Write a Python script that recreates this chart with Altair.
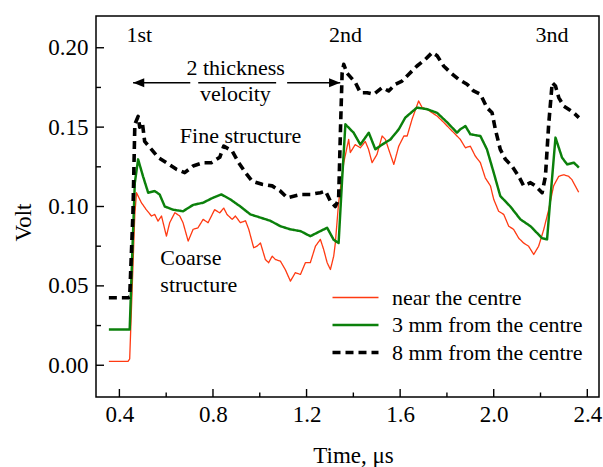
import altair as alt
import pandas as pd

# ---------------- data ----------------
SERIES = ["near the centre", "3 mm from the centre", "8 mm from the centre"]

red_t = [0.355, 0.437, 0.444, 0.455, 0.466, 0.473, 0.494, 0.515, 0.537, 0.551, 0.565, 0.580,
         0.601, 0.615, 0.637, 0.658, 0.672, 0.694, 0.715, 0.736, 0.758, 0.779, 0.807, 0.829,
         0.846, 0.860, 0.882, 0.896, 0.917, 0.939, 0.953, 0.974, 0.988, 1.003, 1.024, 1.038,
         1.053, 1.067, 1.088, 1.109, 1.131, 1.152, 1.174, 1.195, 1.216, 1.238, 1.259, 1.273,
         1.288, 1.302, 1.316, 1.323, 1.337, 1.359, 1.380, 1.387, 1.408, 1.430, 1.451, 1.465,
         1.480, 1.501, 1.523, 1.537, 1.551, 1.573, 1.594, 1.616, 1.630, 1.651, 1.679, 1.694,
         1.715, 1.737, 1.758, 1.786, 1.815, 1.836, 1.857, 1.879, 1.900, 1.921, 1.943, 1.964,
         1.986, 2.000, 2.021, 2.043, 2.064, 2.085, 2.107, 2.128, 2.149, 2.171, 2.192, 2.214,
         2.235, 2.256, 2.278, 2.299, 2.320, 2.334, 2.363]
red_v = [0.0025, 0.0025, 0.004, 0.050, 0.095, 0.1087, 0.1024, 0.098, 0.094, 0.095, 0.0908, 0.094,
         0.0813, 0.0898, 0.0961, 0.094, 0.0898, 0.0782, 0.0856, 0.0866, 0.0919, 0.0898, 0.098, 0.096,
         0.099, 0.095, 0.0919, 0.094, 0.0898, 0.091, 0.0856, 0.074, 0.075, 0.077, 0.0666, 0.0646,
         0.0687, 0.0666, 0.0656, 0.0603, 0.053, 0.0583, 0.0572, 0.0646, 0.0646, 0.075, 0.0793, 0.073,
         0.0646, 0.0603, 0.0687, 0.077, 0.1024, 0.1276, 0.1423, 0.134, 0.139, 0.137, 0.141, 0.136,
         0.1276, 0.1328, 0.1444, 0.1423, 0.136, 0.1265, 0.138, 0.1444, 0.1444, 0.155, 0.1665, 0.1623,
         0.1613, 0.159, 0.157, 0.153, 0.1486, 0.1455, 0.1423, 0.137, 0.138, 0.1318, 0.1276, 0.118,
         0.113, 0.1045, 0.097, 0.095, 0.0876, 0.0856, 0.080, 0.077, 0.075, 0.0698, 0.075, 0.0856,
         0.098, 0.113, 0.119, 0.120, 0.119, 0.117, 0.109]

green_t = [0.355, 0.437, 0.444, 0.455, 0.466, 0.480, 0.501, 0.523, 0.551, 0.572, 0.594, 0.629,
           0.672, 0.715, 0.758, 0.800, 0.836, 0.874, 0.917, 0.960, 1.003, 1.045, 1.088, 1.131,
           1.174, 1.216, 1.259, 1.288, 1.316, 1.337, 1.352, 1.366, 1.373, 1.401, 1.430, 1.466,
           1.494, 1.523, 1.559, 1.594, 1.622, 1.672, 1.715, 1.758, 1.801, 1.843, 1.857, 1.879,
           1.900, 1.943, 1.971, 2.000, 2.028, 2.071, 2.114, 2.157, 2.207, 2.228, 2.243, 2.264,
           2.292, 2.314, 2.343, 2.364]
green_v = [0.0225, 0.0225, 0.0225, 0.070, 0.115, 0.1297, 0.119, 0.1087, 0.1097, 0.1076, 0.100, 0.098,
           0.097, 0.101, 0.1024, 0.1055, 0.1076, 0.1045, 0.100, 0.095, 0.093, 0.091, 0.0876, 0.0856,
           0.0845, 0.0813, 0.0845, 0.0866, 0.079, 0.077, 0.117, 0.1518, 0.1507, 0.1465, 0.139, 0.1465,
           0.136, 0.139, 0.1423, 0.1486, 0.156, 0.1623, 0.1613, 0.159, 0.153, 0.1465, 0.1486, 0.1507,
           0.1455, 0.1444, 0.136, 0.1213, 0.1066, 0.100, 0.0919, 0.0876, 0.080, 0.0793, 0.1066, 0.1434,
           0.1308, 0.1265, 0.1276, 0.1245]

black_t = [0.355, 0.437, 0.444, 0.458, 0.466, 0.480, 0.487, 0.498, 0.508, 0.537, 0.565, 0.601,
           0.644, 0.679, 0.715, 0.758, 0.793, 0.829, 0.846, 0.882, 0.910, 0.939, 0.967, 1.010,
           1.053, 1.088, 1.117, 1.174, 1.216, 1.259, 1.281, 1.302, 1.323, 1.337, 1.345, 1.352,
           1.359, 1.373, 1.409, 1.430, 1.459, 1.487, 1.523, 1.551, 1.580, 1.608, 1.637, 1.672,
           1.708, 1.737, 1.758, 1.786, 1.815, 1.851, 1.886, 1.914, 1.943, 1.971, 1.993, 2.007,
           2.028, 2.050, 2.078, 2.107, 2.128, 2.157, 2.178, 2.207, 2.221, 2.235, 2.250, 2.264,
           2.278, 2.299, 2.320, 2.342, 2.364]
black_v = [0.0425, 0.0425, 0.043, 0.096, 0.1518, 0.1567, 0.150, 0.153, 0.141, 0.136, 0.131, 0.1276,
           0.1234, 0.1213, 0.1255, 0.1276, 0.1276, 0.131, 0.138, 0.135, 0.1276, 0.1213, 0.116, 0.114,
           0.113, 0.1097, 0.1055, 0.1076, 0.1076, 0.1087, 0.1097, 0.1034, 0.100, 0.1045, 0.1486, 0.184,
           0.1896, 0.184, 0.178, 0.1717, 0.1717, 0.1707, 0.1749, 0.1728, 0.177, 0.179, 0.1833, 0.1885,
           0.1927, 0.197, 0.195, 0.1885, 0.1844, 0.180, 0.177, 0.1728, 0.1707, 0.1623, 0.159, 0.1486,
           0.136, 0.1297, 0.1255, 0.119, 0.113, 0.115, 0.113, 0.1087, 0.119, 0.1518, 0.178, 0.1759,
           0.1686, 0.1633, 0.1613, 0.159, 0.156]

COLORS = ["#ff3a12", "#0b800b", "#000000"]
WIDTHS = [1.3, 3.6, 2.0]
DASHES = [[1, 0], [1, 0], [8, 5]]

X_MAJOR = [0.4, 0.8, 1.2, 1.6, 2.0, 2.4]
X_MINOR = [0.6, 1.0, 1.4, 1.8, 2.2]
Y_MAJOR = [0.0, 0.05, 0.10, 0.15, 0.20]
Y_MINOR = [0.025, 0.075, 0.125, 0.175]
X_DOMAIN = [0.3, 2.45]
Y_DOMAIN = [-0.02, 0.22]

# annotations (text, t, v, align)
ANN_TEXT = ["1st", "2nd", "3nd", "2 thickness", "velocity", "Fine structure", "Coarse", "structure"]
ANN_T = [0.4855, 1.366, 2.249, 0.897, 0.896, 0.918, 0.575, 0.575]
ANN_V = [0.2039, 0.2039, 0.2039, 0.1827, 0.1665, 0.1402, 0.0629, 0.046]
ANN_ALIGN = ["center", "center", "center", "center", "center", "center", "left", "left"]

BAR_T = [0.737, 1.07]
ARROW_V = 0.178
ARROW_LEFT = [0.4585, 0.703]
ARROW_RIGHT = [1.117, 1.344]

W, H = 503, 381
FONT = "Liberation Serif"

# ---------------- build tables ----------------
rows = []
for name, ts, vs in zip(SERIES, [red_t, green_t, black_t], [red_v, green_v, black_v]):
    for i, (t, v) in enumerate(zip(ts, vs)):
        rows.append({"series": name, "t": t, "v": v, "i": i})
df = pd.DataFrame(rows)

xs = alt.Scale(domain=X_DOMAIN, nice=False, zero=False)
ys = alt.Scale(domain=Y_DOMAIN, nice=False, zero=False)

lines = alt.Chart(df).mark_line(clip=True, strokeJoin="round").encode(
    x=alt.X("t:Q", scale=xs,
            axis=alt.Axis(values=X_MAJOR, format=".1f", ticks=False, domain=False, grid=False,
                          labelFont=FONT, labelFontSize=23, labelColor="black",
                          labelBaseline="alphabetic", labelPadding=24,
                          title="Time, μs", titleFont=FONT, titleFontSize=23,
                          titleFontWeight="normal", titleColor="black",
                          titleX=257, titleY=65, titleBaseline="alphabetic")),
    y=alt.Y("v:Q", scale=ys,
            axis=alt.Axis(values=Y_MAJOR, format=".2f", ticks=False, domain=False, grid=False,
                          labelFont=FONT, labelFontSize=23, labelColor="black",
                          labelPadding=8,
                          title="Volt", titleFont=FONT, titleFontSize=23,
                          titleFontWeight="normal", titleColor="black",
                          titleAngle=270, titleX=-73, titleY=206,
                          titleAlign="center", titleBaseline="middle")),
    color=alt.Color("series:N", scale=alt.Scale(domain=SERIES, range=COLORS),
                    legend=alt.Legend(orient="none", legendX=246, legendY=269, title=None,
                                      symbolType="M-2,0H2", symbolSize=529,
                                      labelFont=FONT, labelFontSize=22, labelColor="black",
                                      labelOffset=23, rowPadding=3, padding=0,
                                      labelLimit=400)),
    strokeDash=alt.StrokeDash("series:N", scale=alt.Scale(domain=SERIES, range=DASHES), legend=None),
    strokeWidth=alt.StrokeWidth("series:N", scale=alt.Scale(domain=SERIES, range=WIDTHS), legend=None),
    order="i:Q",
)

xmaj = alt.Chart(pd.DataFrame({"t": X_MAJOR})).mark_rule(color="black", strokeWidth=1.4).encode(
    x=alt.X("t:Q", scale=xs), y=alt.value(H), y2=alt.value(H - 8))
xmin = alt.Chart(pd.DataFrame({"t": X_MINOR})).mark_rule(color="black", strokeWidth=1.4).encode(
    x=alt.X("t:Q", scale=xs), y=alt.value(H), y2=alt.value(H - 4.5))
ymaj = alt.Chart(pd.DataFrame({"v": Y_MAJOR})).mark_rule(color="black", strokeWidth=1.4).encode(
    y=alt.Y("v:Q", scale=ys), x=alt.value(0), x2=alt.value(8))
ymin = alt.Chart(pd.DataFrame({"v": Y_MINOR})).mark_rule(color="black", strokeWidth=1.4).encode(
    y=alt.Y("v:Q", scale=ys), x=alt.value(0), x2=alt.value(5))

ann_df = pd.DataFrame({"text": ANN_TEXT, "t": ANN_T, "v": ANN_V, "align": ANN_ALIGN})
ann_c = alt.Chart(ann_df[ann_df["align"] == "center"]).mark_text(
    font=FONT, fontSize=22, baseline="alphabetic", align="center", color="black").encode(
    x=alt.X("t:Q", scale=xs), y=alt.Y("v:Q", scale=ys), text="text:N")
ann_l = alt.Chart(ann_df[ann_df["align"] == "left"]).mark_text(
    font=FONT, fontSize=22, baseline="alphabetic", align="left", color="black").encode(
    x=alt.X("t:Q", scale=xs), y=alt.Y("v:Q", scale=ys), text="text:N")

seg_df = pd.DataFrame({"t1": [BAR_T[0], ARROW_LEFT[0], ARROW_RIGHT[0]],
                       "t2": [BAR_T[1], ARROW_LEFT[1], ARROW_RIGHT[1]],
                       "v": [ARROW_V] * 3})
segs = alt.Chart(seg_df).mark_rule(color="black", strokeWidth=1.6).encode(
    x=alt.X("t1:Q", scale=xs), x2="t2:Q", y=alt.Y("v:Q", scale=ys))

head_l = alt.Chart(pd.DataFrame({"t": [ARROW_LEFT[0]], "v": [ARROW_V]})).mark_point(
    shape="M0,0L1,-0.4L1,0.4Z", filled=True, color="black", size=500, opacity=1).encode(
    x=alt.X("t:Q", scale=xs), y=alt.Y("v:Q", scale=ys))
head_r = alt.Chart(pd.DataFrame({"t": [ARROW_RIGHT[1]], "v": [ARROW_V]})).mark_point(
    shape="M0,0L-1,-0.4L-1,0.4Z", filled=True, color="black", size=500, opacity=1).encode(
    x=alt.X("t:Q", scale=xs), y=alt.Y("v:Q", scale=ys))

chart = alt.layer(lines, xmaj, xmin, ymaj, ymin, segs, head_l, head_r, ann_c, ann_l).properties(
    width=W, height=H,
    padding={"left": 96, "top": 16, "right": 4, "bottom": 70},
    autosize=alt.AutoSizeParams(type="none"),
    background="white",
).configure_view(stroke="black", strokeWidth=1.5)

chart.save("out.html", embed_options={"renderer": "svg", "actions": False})
